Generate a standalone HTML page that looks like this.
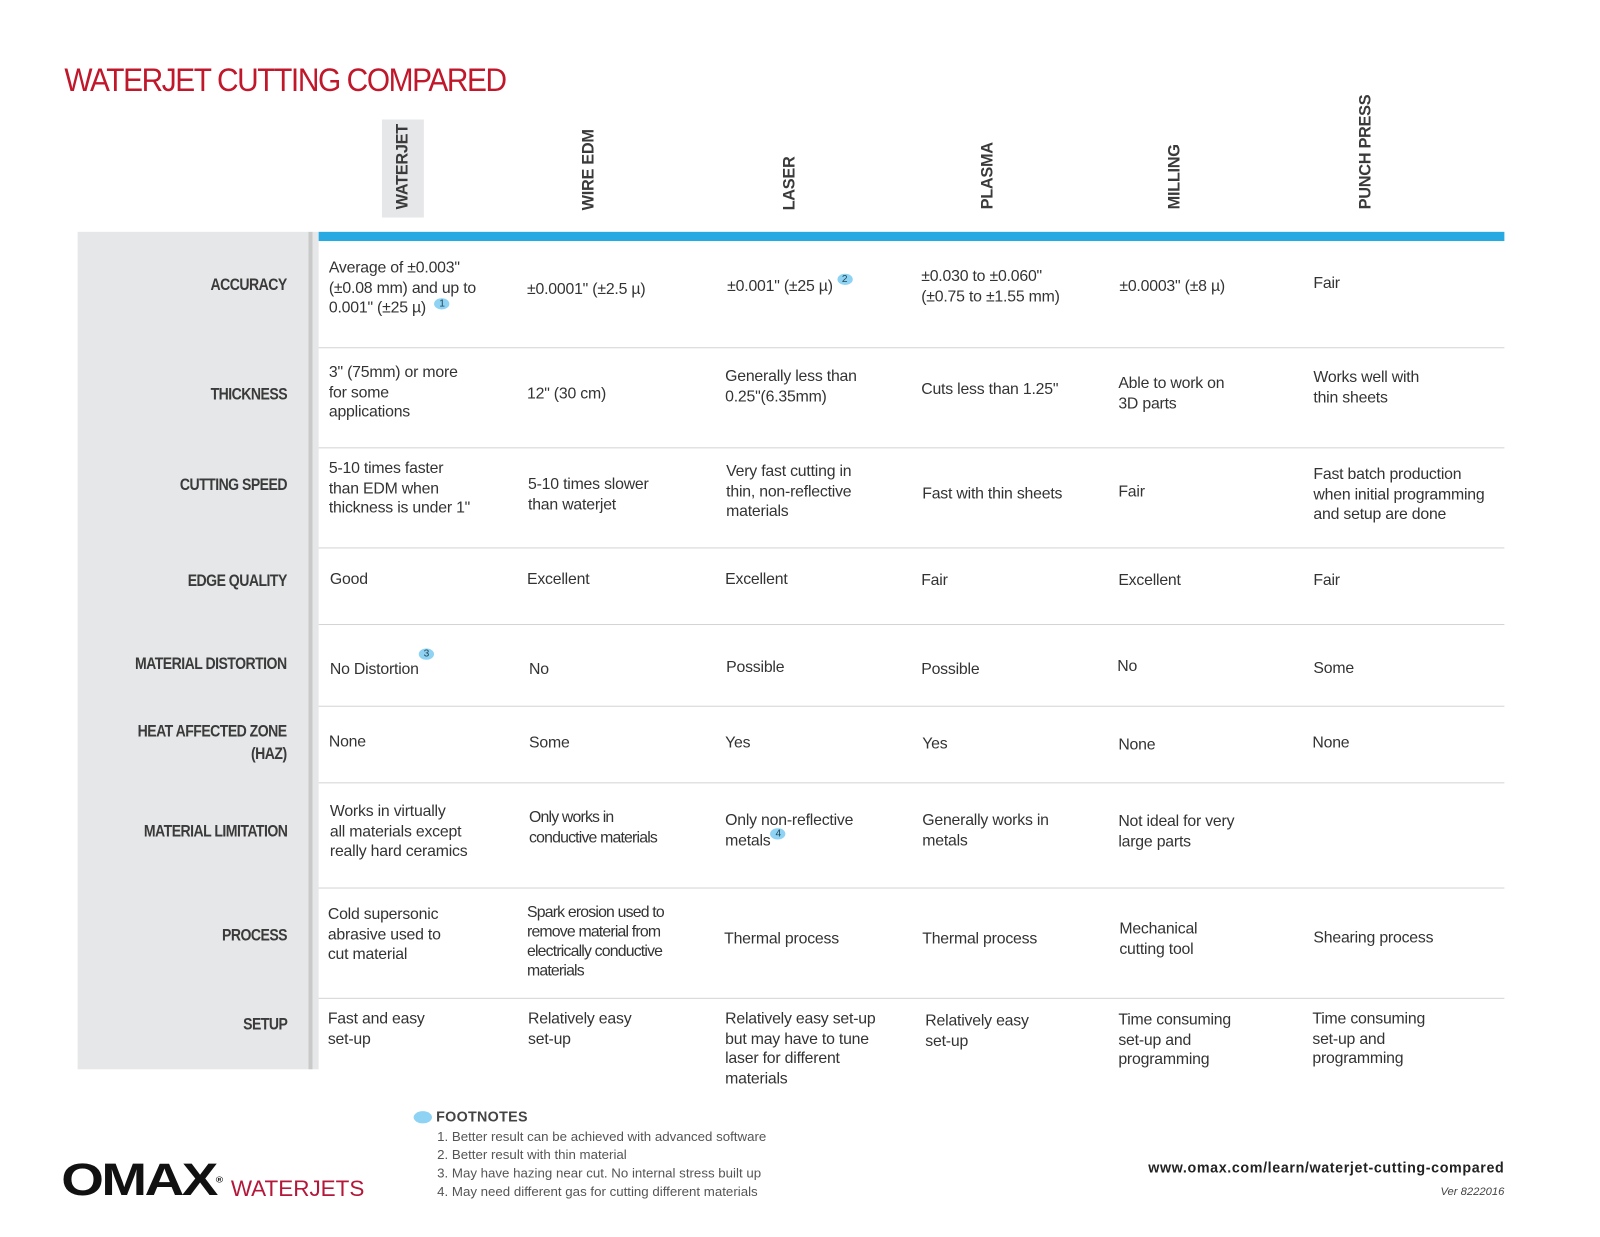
<!DOCTYPE html>
<html><head><meta charset="utf-8"><style>
html,body{margin:0;padding:0;background:#fff;width:1600px;height:1236px;overflow:hidden}
#wrap{position:absolute;left:0;top:0;width:1567px;height:1211px;transform:scale(1.0213);transform-origin:0 0;font-family:"Liberation Sans",sans-serif;color:#333}
.a{position:absolute}
.t{position:absolute;font-size:15.5px;line-height:19.5px;color:#333;white-space:nowrap;letter-spacing:-0.2px}
.lab{position:absolute;right:1286px;text-align:right;font-family:"Liberation Sans",sans-serif;font-weight:bold;font-size:16px;line-height:22px;color:#3a3a3a;letter-spacing:-0.6px;white-space:nowrap;transform:scaleX(0.86);transform-origin:100% 50%}
.hd{position:absolute;font-weight:bold;font-size:16px;color:#3a3a3a;transform-origin:0 0;transform:rotate(-90deg);white-space:nowrap;letter-spacing:-0.3px;font-family:"Liberation Sans",sans-serif}
.sep{position:absolute;left:312px;width:1161px;height:1px;background:#d4d4d4}
.b{display:inline-block;width:15px;height:11px;border-radius:50%;background:#8fd3f4;font-size:10px;line-height:11px;text-align:center;color:#245;vertical-align:top;position:relative}
.fn{position:absolute;left:428px;font-size:13px;line-height:18px;color:#555;white-space:nowrap}
</style></head><body><div id="wrap">
<div class="a" style="left:63px;top:60px;font-size:32px;color:#c0172b;letter-spacing:-1.5px;white-space:nowrap;transform:scaleX(0.913);transform-origin:0 0">WATERJET CUTTING COMPARED</div>

<div class="a" style="left:374px;top:117px;width:41px;height:96px;background:#e6e7e8"></div>
<div class="hd" style="left:386px;top:205px">WATERJET</div>
<div class="hd" style="left:568px;top:206px">WIRE EDM</div>
<div class="hd" style="left:765px;top:206px">LASER</div>
<div class="hd" style="left:959px;top:205px">PLASMA</div>
<div class="hd" style="left:1142px;top:205px">MILLING</div>
<div class="hd" style="left:1329px;top:205px">PUNCH PRESS</div>

<div class="a" style="left:76px;top:227px;width:226px;height:820px;background:#e6e7e8"></div>
<div class="a" style="left:302px;top:227px;width:4px;height:820px;background:#c9c9c9"></div>
<div class="a" style="left:306px;top:227px;width:6px;height:820px;background:#e6e7e8"></div>
<div class="a" style="left:312px;top:227px;width:1161px;height:9px;background:#29a9e1"></div>

<div class="sep" style="top:340px"></div>
<div class="sep" style="top:438px"></div>
<div class="sep" style="top:536px"></div>
<div class="sep" style="top:611px"></div>
<div class="sep" style="top:691px"></div>
<div class="sep" style="top:766px"></div>
<div class="sep" style="top:869px"></div>
<div class="sep" style="top:977px"></div>

<div class="lab" style="top:269px">ACCURACY</div>
<div class="lab" style="top:376px">THICKNESS</div>
<div class="lab" style="top:465px">CUTTING SPEED</div>
<div class="lab" style="top:559px">EDGE QUALITY</div>
<div class="lab" style="top:640px">MATERIAL DISTORTION</div>
<div class="lab" style="top:706px">HEAT AFFECTED ZONE<br>(HAZ)</div>
<div class="lab" style="top:804px">MATERIAL LIMITATION</div>
<div class="lab" style="top:906px">PROCESS</div>
<div class="lab" style="top:993px">SETUP</div>

<!-- accuracy -->
<div class="t" style="left:322px;top:253px">Average of ±0.003"<br>(±0.08 mm) and up to<br>0.001" (±25 µ) &nbsp;<span class="b">1</span></div>
<div class="t" style="left:516px;top:274px">±0.0001" (±2.5 µ)</div>
<div class="t" style="left:712px;top:271px">±0.001" (±25 µ) <span class="b" style="top:-3px">2</span></div>
<div class="t" style="left:902px;top:261px">±0.030 to ±0.060"<br>(±0.75 to ±1.55 mm)</div>
<div class="t" style="left:1096px;top:271px">±0.0003" (±8 µ)</div>
<div class="t" style="left:1286px;top:268px">Fair</div>
<!-- thickness -->
<div class="t" style="left:322px;top:355px">3" (75mm) or more<br>for some<br>applications</div>
<div class="t" style="left:516px;top:376px">12" (30 cm)</div>
<div class="t" style="left:710px;top:359px">Generally less than<br>0.25"(6.35mm)</div>
<div class="t" style="left:902px;top:372px">Cuts less than 1.25"</div>
<div class="t" style="left:1095px;top:366px">Able to work on<br>3D parts</div>
<div class="t" style="left:1286px;top:360px">Works well with<br>thin sheets</div>
<!-- speed -->
<div class="t" style="left:322px;top:449px">5-10 times faster<br>than EDM when<br>thickness is under 1"</div>
<div class="t" style="left:517px;top:465px">5-10 times slower<br>than waterjet</div>
<div class="t" style="left:711px;top:452px">Very fast cutting in<br>thin, non-reflective<br>materials</div>
<div class="t" style="left:903px;top:474px">Fast with thin sheets</div>
<div class="t" style="left:1095px;top:472px">Fair</div>
<div class="t" style="left:1286px;top:455px">Fast batch production<br>when initial programming<br>and setup are done</div>
<!-- edge -->
<div class="t" style="left:323px;top:558px">Good</div>
<div class="t" style="left:516px;top:558px">Excellent</div>
<div class="t" style="left:710px;top:558px">Excellent</div>
<div class="t" style="left:902px;top:559px">Fair</div>
<div class="t" style="left:1095px;top:559px">Excellent</div>
<div class="t" style="left:1286px;top:559px">Fair</div>
<!-- distortion -->
<div class="t" style="left:323px;top:646px">No Distortion<span class="b" style="top:-11px">3</span></div>
<div class="t" style="left:518px;top:646px">No</div>
<div class="t" style="left:711px;top:644px">Possible</div>
<div class="t" style="left:902px;top:646px">Possible</div>
<div class="t" style="left:1094px;top:643px">No</div>
<div class="t" style="left:1286px;top:645px">Some</div>
<!-- haz -->
<div class="t" style="left:322px;top:717px">None</div>
<div class="t" style="left:518px;top:718px">Some</div>
<div class="t" style="left:710px;top:718px">Yes</div>
<div class="t" style="left:903px;top:719px">Yes</div>
<div class="t" style="left:1095px;top:720px">None</div>
<div class="t" style="left:1285px;top:718px">None</div>
<!-- limitation -->
<div class="t" style="left:323px;top:785px">Works in virtually<br>all materials except<br>really hard ceramics</div>
<div class="t" style="left:518px;top:791px;letter-spacing:-0.8px">Only works in<br>conductive materials</div>
<div class="t" style="left:710px;top:794px">Only non-reflective<br>metals<span class="b" style="top:-3px">4</span></div>
<div class="t" style="left:903px;top:794px">Generally works in<br>metals</div>
<div class="t" style="left:1095px;top:795px">Not ideal for very<br>large parts</div>
<!-- process -->
<div class="t" style="left:321px;top:886px">Cold supersonic<br>abrasive used to<br>cut material</div>
<div class="t" style="left:516px;top:884px;line-height:19px;letter-spacing:-0.8px">Spark erosion used to<br>remove material from<br>electrically conductive<br>materials</div>
<div class="t" style="left:709px;top:910px">Thermal process</div>
<div class="t" style="left:903px;top:910px">Thermal process</div>
<div class="t" style="left:1096px;top:900px">Mechanical<br>cutting tool</div>
<div class="t" style="left:1286px;top:909px">Shearing process</div>
<!-- setup -->
<div class="t" style="left:321px;top:988px">Fast and easy<br>set-up</div>
<div class="t" style="left:517px;top:988px">Relatively easy<br>set-up</div>
<div class="t" style="left:710px;top:988px">Relatively easy set-up<br>but may have to tune<br>laser for different<br>materials</div>
<div class="t" style="left:906px;top:990px">Relatively easy<br>set-up</div>
<div class="t" style="left:1095px;top:989px">Time consuming<br>set-up and<br>programming</div>
<div class="t" style="left:1285px;top:988px">Time consuming<br>set-up and<br>programming</div>

<!-- footnotes -->
<div class="a" style="left:405px;top:1088px;width:18px;height:12px;border-radius:50%;background:#8fd3f4"></div>
<div class="a" style="left:427px;top:1085px;font-size:14px;font-weight:bold;color:#444;letter-spacing:0.3px;font-family:'Liberation Sans',sans-serif">FOOTNOTES</div>
<div class="fn" style="top:1104px">1. Better result can be achieved with advanced software</div>
<div class="fn" style="top:1122px">2. Better result with thin material</div>
<div class="fn" style="top:1140px">3. May have hazing near cut. No internal stress built up</div>
<div class="fn" style="top:1158px">4. May need different gas for cutting different materials</div>

<div class="a" style="left:60px;top:1131px;font-size:44px;line-height:50px;font-weight:900;color:#111;letter-spacing:-2px;font-family:'Liberation Sans',sans-serif;transform:scaleX(1.22);transform-origin:0 0;white-space:nowrap">OMAX<span style="font-size:8px;vertical-align:top;letter-spacing:0">®</span></div>
<div class="a" style="left:226px;top:1151px;font-size:22px;color:#b3183a;white-space:nowrap">WATERJETS</div>
<div class="a" style="right:94px;top:1135px;font-size:14px;font-weight:bold;color:#222;letter-spacing:0.6px;white-space:nowrap">www.omax.com/learn/waterjet-cutting-compared</div>
<div class="a" style="right:94px;top:1161px;font-size:11px;font-style:italic;color:#444">Ver 8222016</div>
</div></body></html>
